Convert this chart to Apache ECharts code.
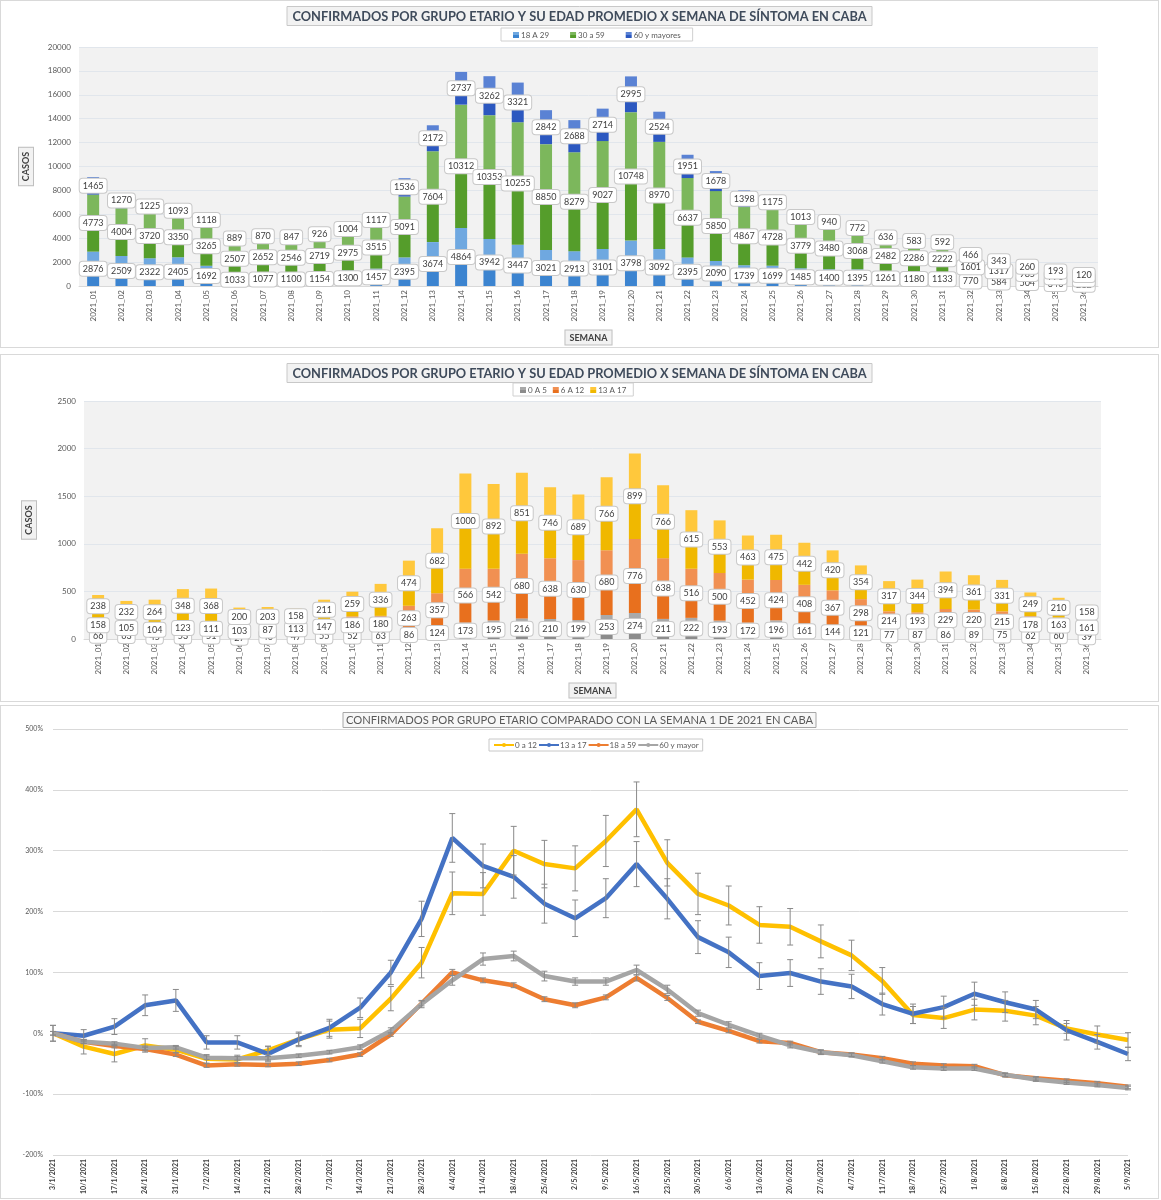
<!DOCTYPE html>
<html><head><meta charset="utf-8">
<script src="https://cdn.jsdelivr.net/npm/echarts@6/dist/echarts.min.js"></script>
<style>
body{margin:0;background:#fff;font-family:Lato,sans-serif;}
.panel{position:absolute;left:0;width:1159px;border:1px solid #d9d9d9;box-sizing:border-box;background:#fff;}
.chart{position:absolute;left:0;top:0;width:100%;height:100%;}
</style></head><body>
<div class="panel" style="top:0;height:348px"><div id="c1" class="chart"></div></div>
<div class="panel" style="top:354px;height:348px"><div id="c2" class="chart"></div></div>
<div class="panel" style="top:705px;height:494px"><div id="c3" class="chart"></div></div>
<script>
// ---------- DATA ----------
const weeks = ['2021_01','2021_02','2021_03','2021_04','2021_05','2021_06','2021_07','2021_08','2021_09','2021_10','2021_11','2021_12','2021_13','2021_14','2021_15','2021_16','2021_17','2021_18','2021_19','2021_20','2021_21','2021_22','2021_23','2021_24','2021_25','2021_26','2021_27','2021_28','2021_29','2021_30','2021_31','2021_32','2021_33','2021_34','2021_35','2021_36'];
const casos18a29 = [2876,2509,2322,2405,1692,1033,1077,1100,1154,1300,1457,2395,3674,4864,3942,3447,3021,2913,3101,3798,3092,2395,2090,1739,1699,1485,1400,1395,1261,1180,1133,770,584,504,340,212];
const casos30a59 = [4773,4004,3720,3350,3265,2507,2652,2546,2719,2975,3515,5091,7604,10312,10353,10255,8850,8279,9027,10748,8970,6637,5850,4867,4728,3779,3480,3068,2482,2286,2222,1601,1317,985,770,645];
const casos60ymas = [1465,1270,1225,1093,1118,889,870,847,926,1004,1117,1536,2172,2737,3262,3321,2842,2688,2714,2995,2524,1951,1678,1398,1175,1013,940,772,636,583,592,466,343,260,193,120];

const casos0a5 = [66,63,45,53,51,27,46,47,55,52,63,86,124,173,195,216,210,199,253,274,211,222,193,172,196,161,144,121,77,87,86,89,75,62,60,39];
const casos6a12 = [158,105,104,123,111,103,87,113,147,186,180,263,357,566,542,680,638,630,680,776,638,516,500,452,424,408,367,298,214,193,229,220,215,178,163,161];
const casos13a17 = [238,232,264,348,368,200,203,158,211,259,336,474,682,1000,892,851,746,689,766,899,766,615,553,463,475,442,420,354,317,344,394,361,331,249,210,158];

const fechas = ['3/1/2021','10/1/2021','17/1/2021','24/1/2021','31/1/2021','7/2/2021','14/2/2021','21/2/2021','28/2/2021','7/3/2021','14/3/2021','21/3/2021','28/3/2021','4/4/2021','11/4/2021','18/4/2021','25/4/2021','2/5/2021','9/5/2021','16/5/2021','23/5/2021','30/5/2021','6/6/2021','13/6/2021','20/6/2021','27/6/2021','4/7/2021','11/7/2021','18/7/2021','25/7/2021','1/8/2021','8/8/2021','15/8/2021','22/8/2021','29/8/2021','5/9/2021'];
const pct0a12 = [0,-22,-34,-20,-27,-42,-43,-28,-10,6,8,57,116,230,229,300,278,271,316,368,280,229,210,178,175,151,128,86,30,25,39,37,29,8,-2,-11];
const pct13a17 = [0,-4,11,46,54,-15,-15,-34,-10,9,42,100,188,321,275,257,213,189,222,278,221,158,133,94,99,85,77,48,32,43,65,51,39,5,-14,-34];
const pct18a59 = [0,-14,-21,-26,-35,-53,-51,-52,-50,-44,-35,-2,49,100,87,79,56,46,59,91,58,19,4,-13,-16,-31,-35,-41,-50,-53,-54,-69,-74,-78,-82,-88];
const pct60 = [0,-14,-17,-24,-23,-40,-41,-41,-37,-31,-23,4,48,87,122,127,94,85,85,104,72,33,14,-4,-20,-31,-36,-46,-56,-58,-58,-68,-76,-81,-85,-90];
const err0a12 = [13,12,13,11,5,7,7,7,10,14,15,20,25,35,35,40,39,37,42,45,38,34,32,30,30,27,25,22,14,17,17,17,15,8,14,12];
const err13a17 = [13,10,13,17,18,11,11,12,12,14,16,20,29,40,36,35,32,30,32,37,33,27,25,22,22,21,20,18,16,18,19,17,15,16,12,11];
const err18a59 = [3,3,3,3,3,3,3,3,3,3,3,3,4,5,4,4,4,4,4,5,4,3,3,3,3,3,3,3,3,3,3,3,3,3,3,3];
const err60 = [3,3,3,3,3,3,3,3,3,3,4,5,6,8,10,8,8,6,6,8,7,5,5,4,4,4,3,3,3,3,3,3,3,3,3,3];

// ---------- STYLES ----------
const FONT = 'Lato, "Open Sans", sans-serif';
function grad(top, bot) {
  return new echarts.graphic.LinearGradient(0, 0, 0, 1, [
    {offset: 0, color: top}, {offset: 0.42, color: top},
    {offset: 0.58, color: bot}, {offset: 1, color: bot}]);
}
const lbl = {show: true, position: 'inside', backgroundColor: '#fff', borderColor: '#c8c8c8', borderWidth: 1,
  borderRadius: 3, padding: [3, 3, 2, 3], color: '#404040', fontSize: 9, fontFamily: FONT};
const boxName = {fontFamily: FONT, fontSize: 9, fontWeight: 'bold', color: '#404040', backgroundColor: '#f2f2f2',
  borderColor: '#bfbfbf', borderWidth: 1, padding: [3, 4, 2, 4]};
const titleBox = {left: 'center', padding: [4, 6, 3, 6], backgroundColor: '#f2f2f2', borderColor: '#c8c8c8', borderWidth: 1};

function barOption(cfg) {
  return {
    animation: false,
    title: Object.assign({}, titleBox, {text: 'CONFIRMADOS POR GRUPO ETARIO Y SU EDAD PROMEDIO X SEMANA DE SÍNTOMA EN CABA',
      top: cfg.titleTop, textStyle: {fontFamily: FONT, fontWeight: 'bold', fontSize: 12.8, color: '#3f4b5b'}}),
    legend: {left: cfg.legendLeft, top: cfg.legendTop, padding: cfg.legendPad, itemGap: cfg.legendGap,
      backgroundColor: '#fff', borderColor: '#d0d0d0', borderWidth: 1, itemWidth: 6, itemHeight: 6, icon: 'rect',
      textStyle: {fontFamily: FONT, fontSize: 8, color: '#595959', padding: [0, 0, 0, -3]}},
    grid: Object.assign({show: true, backgroundColor: '#f2f2f2', borderWidth: 0, outerBoundsMode: 'none', containLabel: false}, cfg.grid),
    xAxis: {type: 'category', data: weeks, name: 'SEMANA', nameLocation: 'middle', nameGap: cfg.nameGapX,
      nameTextStyle: boxName, axisTick: {show: false}, axisLine: {lineStyle: {color: '#d9d9d9'}},
      axisLabel: {rotate: 90, fontSize: 8, color: '#595959', fontFamily: FONT, interval: 0, margin: 4}},
    yAxis: {type: 'value', min: 0, max: cfg.max, interval: cfg.interval, name: 'CASOS', nameLocation: 'middle',
      nameGap: cfg.nameGapY, nameRotate: 90, nameTextStyle: boxName,
      axisLine: {show: false}, axisTick: {show: false},
      splitLine: {lineStyle: {color: '#e1e6ec'}},
      axisLabel: {fontSize: 8, color: '#595959', fontFamily: FONT, margin: 8, formatter: v => String(v)}},
    series: cfg.series.map(s => ({name: s.name, type: 'bar', stack: 'a', barWidth: 12, data: s.data,
      itemStyle: {color: grad(s.top, s.bot)}, label: lbl}))
  };
}

const c1 = echarts.init(document.getElementById('c1'));
c1.setOption(barOption({
  titleTop: 5, legendLeft: 500, legendTop: 27, legendGap: 21, legendPad: [3, 12, 2, 12],
  grid: {left: 78, right: 60, top: 46, bottom: 61},
  nameGapX: 44, nameGapY: 46, max: 20000, interval: 2000,
  series: [
    {name: '18 A 29', data: casos18a29, top: '#6fa8e0', bot: '#3c84d0'},
    {name: '30 a 59', data: casos30a59, top: '#7cb75c', bot: '#559d2b'},
    {name: '60 y mayores', data: casos60ymas, top: '#5a82d4', bot: '#2c58c0'}
  ]
}));

const c2 = echarts.init(document.getElementById('c2'));
c2.setOption(barOption({
  titleTop: 8, legendLeft: 512, legendTop: 28, legendGap: 6, legendPad: [3, 7, 2, 7],
  grid: {left: 83, right: 57, top: 46, bottom: 62},
  nameGapX: 44, nameGapY: 48, max: 2500, interval: 500,
  series: [
    {name: '0 A 5', data: casos0a5, top: '#a9a9a9', bot: '#8c8c8c'},
    {name: '6 A 12', data: casos6a12, top: '#f19052', bot: '#e8701e'},
    {name: '13 A 17', data: casos13a17, top: '#ffc83c', bot: '#f0b800'}
  ]
}));

// ---------- LINE CHART ----------
function errSeries(vals, errs) {
  return {type: 'custom', z: 5, silent: true, data: vals.map((v, i) => [i, v - errs[i], v + errs[i]]),
    renderItem: function (params, api) {
      const i = api.value(0);
      const lo = api.coord([i, api.value(1)]);
      const hi = api.coord([i, api.value(2)]);
      const w = 3, st = {stroke: '#8a8a8a', lineWidth: 1};
      return {type: 'group', children: [
        {type: 'line', shape: {x1: lo[0], y1: lo[1], x2: hi[0], y2: hi[1]}, style: st},
        {type: 'line', shape: {x1: lo[0] - w, y1: lo[1], x2: lo[0] + w, y2: lo[1]}, style: st},
        {type: 'line', shape: {x1: hi[0] - w, y1: hi[1], x2: hi[0] + w, y2: hi[1]}, style: st}
      ]};
    }};
}
function lineSeries(name, data, color) {
  return {name: name, type: 'line', data: data, showSymbol: false, symbol: 'circle', symbolSize: 5,
    lineStyle: {width: 4.5, color: color}, itemStyle: {color: color}, z: 3};
}
const c3 = echarts.init(document.getElementById('c3'));
c3.setOption({
  animation: false,
  title: Object.assign({}, titleBox, {text: 'CONFIRMADOS POR GRUPO ETARIO COMPARADO CON LA SEMANA 1 DE 2021 EN CABA',
    top: 6, backgroundColor: '#f7f7f7', borderColor: '#a6a6a6', padding: [3, 3, 2, 3],
    textStyle: {fontFamily: FONT, fontWeight: 'normal', fontSize: 11.2, color: '#595959'}}),
  legend: {left: 488, top: 33, padding: [2, 4, 2, 4], itemGap: 1, itemWidth: 20, itemHeight: 5,
    backgroundColor: '#fff', borderColor: '#c8c8c8', borderWidth: 1,
    textStyle: {fontFamily: FONT, fontSize: 8, color: '#595959', padding: [0, 0, 0, -4]},
    data: ['0 a 12', '13 a 17', '18 a 59', '60 y mayor']},
  grid: {left: 52, right: 30, top: 23, bottom: 43, outerBoundsMode: 'none', containLabel: false},
  xAxis: {type: 'category', data: fechas, boundaryGap: false, axisTick: {show: false},
    axisLine: {show: false},
    axisLabel: {rotate: 90, fontSize: 7, fontWeight: 'bold', color: '#404040', fontFamily: FONT, interval: 0, margin: 4}},
  yAxis: {type: 'value', min: -200, max: 500, interval: 100, axisLine: {show: false}, axisTick: {show: false},
    splitLine: {lineStyle: {color: '#d9d9d9'}},
    axisLabel: {formatter: '{value}%', fontSize: 7, color: '#595959', fontFamily: FONT, margin: 10}},
  series: [
    lineSeries('0 a 12', pct0a12, '#ffc000'),
    lineSeries('13 a 17', pct13a17, '#4472c4'),
    lineSeries('18 a 59', pct18a59, '#ed7d31'),
    lineSeries('60 y mayor', pct60, '#a5a5a5'),
    errSeries(pct18a59, err18a59),
    errSeries(pct60, err60),
    errSeries(pct0a12, err0a12),
    errSeries(pct13a17, err13a17)
  ]
});
</script>
</body></html>
